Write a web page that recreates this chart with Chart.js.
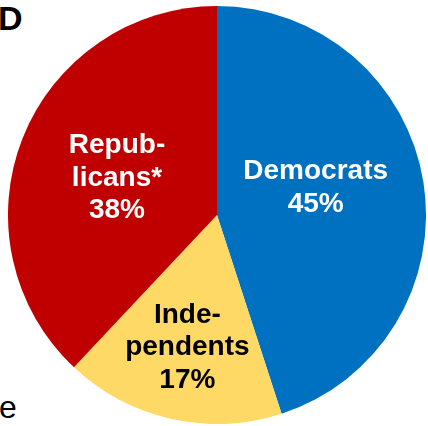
<!DOCTYPE html>
<html>
<head>
<meta charset="utf-8">
<script src="https://cdn.jsdelivr.net/npm/chart.js@4"></script>
<style>
  html, body { margin: 0; padding: 0; background: #fff; }
  body { width: 428px; height: 426px; position: relative; overflow: hidden; font-family: "Liberation Sans", Arial, sans-serif; }
  #wrap { position: absolute; left: 8px; top: 6px; width: 418px; height: 418px; }
  #panel { position: absolute; left: -2px; top: -1px; font-size: 34px; font-weight: bold; color: #000; }
  #cut { position: absolute; left: -1px; top: 389px; font-size: 32px; color: #000; }
</style>
</head>
<body>
<div id="panel">D</div>
<div id="cut">e</div>
<div id="wrap"><canvas id="pie"></canvas></div>
<script>
const categories = ['Democrats', 'Independents', 'Republicans*'];
const shares = [45, 17, 38];
const labelLines = [['Democrats', '45%'], ['Inde-', 'pendents', '17%'], ['Repub-', 'licans*', '38%']];
const sliceColors = ['#0070C0', '#FFD966', '#C00000'];
const textColors = ['#FFFFFF', '#000000', '#FFFFFF'];
// where along the slice (angle fraction) and how far out (radius fraction) each label sits
const labelAngle = [0.46, 0.5, 0.49];
const labelRadius = [0.49, 0.65, 0.51];

const sliceLabels = {
  id: 'sliceLabels',
  afterDatasetsDraw(chart) {
    const ctx = chart.ctx;
    const arcs = chart.getDatasetMeta(0).data;
    ctx.save();
    ctx.font = 'bold 28px "Liberation Sans", Arial, sans-serif';
    ctx.textAlign = 'center';
    ctx.textBaseline = 'middle';
    arcs.forEach((arc, i) => {
      const {x, y, startAngle, endAngle, outerRadius} = arc.getProps(['x', 'y', 'startAngle', 'endAngle', 'outerRadius'], true);
      const a = startAngle + (endAngle - startAngle) * labelAngle[i];
      const r = outerRadius * labelRadius[i];
      const cx = x + Math.cos(a) * r;
      const cy = y + Math.sin(a) * r;
      const lines = labelLines[i];
      const lh = 32.5;
      ctx.fillStyle = textColors[i];
      lines.forEach((line, j) => {
        ctx.fillText(line, cx, cy + (j - (lines.length - 1) / 2) * lh);
      });
    });
    ctx.restore();
  }
};

new Chart(document.getElementById('pie'), {
  type: 'pie',
  data: {
    labels: categories,
    datasets: [{
      data: shares,
      backgroundColor: sliceColors,
      borderWidth: 0,
    }]
  },
  options: {
    responsive: true,
    maintainAspectRatio: false,
    animation: false,
    layout: { padding: 0 },
    plugins: {
      legend: { display: false },
      tooltip: { enabled: false }
    }
  },
  plugins: [sliceLabels]
});
</script>
</body>
</html>
